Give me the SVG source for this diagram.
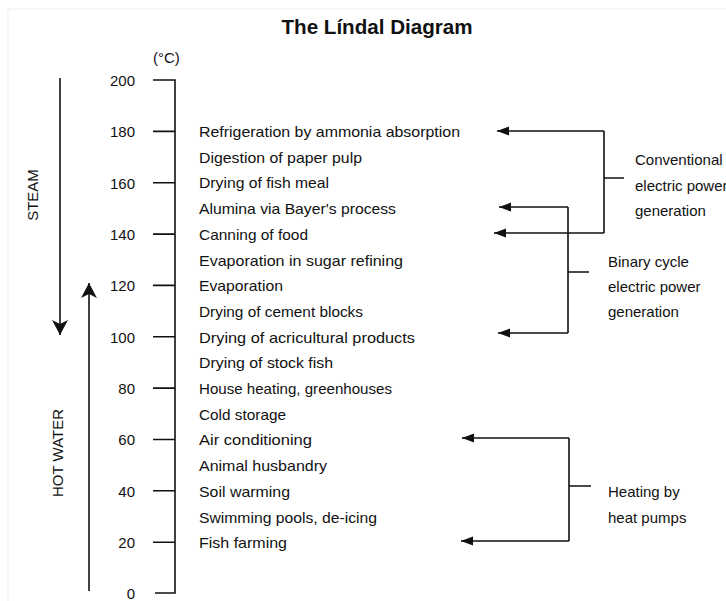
<svg xmlns="http://www.w3.org/2000/svg" width="726" height="601" viewBox="0 0 726 601">
<style>
text{font-family:"Liberation Sans",Arial,sans-serif;fill:#111}
.t{font-size:21px;font-weight:bold}
.n{font-size:15px;text-anchor:end}
.a{font-size:15px}
.v{font-size:15px;text-anchor:middle}
.ln{fill:none;stroke:#111;stroke-width:1.6}
.ax{fill:none;stroke:#111;stroke-width:1.6}
</style>
<defs>
<marker id="ah" markerUnits="userSpaceOnUse" markerWidth="13" markerHeight="10" refX="12" refY="4.5" orient="auto">
<path d="M0,0 L12,4.5 L0,9 Z" fill="#111"/>
</marker>
<marker id="st" markerUnits="userSpaceOnUse" markerWidth="16" markerHeight="17" refX="15" refY="8" orient="auto">
<path d="M0,0 L15,8 L0,16 L4,8 Z" fill="#111"/>
</marker>
</defs>
<rect x="8" y="9" width="740" height="620" fill="#fff" stroke="#efefef" stroke-width="1"/>
<g id="title"><text class="t" x="377" y="34" text-anchor="middle" textLength="191" lengthAdjust="spacingAndGlyphs">The Líndal Diagram</text></g>
<g id="axis">
<text class="a" x="153" y="63">(°C)</text>
<path class="ax" d="M153,80 H175 V593 H155"/>
<path class="ax" d="M153,131.4 H175 M153,182.7 H175 M153,234.1 H175 M153,285.4 H175 M153,336.8 H175 M153,388.1 H175 M153,439.5 H175 M153,490.8 H175 M153,542.2 H175"/>
<text class="n" x="135" y="86">200</text>
<text class="n" x="135" y="137">180</text>
<text class="n" x="135" y="188.5">160</text>
<text class="n" x="135" y="240">140</text>
<text class="n" x="135" y="291">120</text>
<text class="n" x="135" y="342.5">100</text>
<text class="n" x="135" y="394">80</text>
<text class="n" x="135" y="445">60</text>
<text class="n" x="135" y="496.5">40</text>
<text class="n" x="135" y="548">20</text>
<text class="n" x="135" y="599">0</text>
</g>
<g id="steam">
<text class="v" transform="translate(38,195) rotate(-90)">STEAM</text>
</g>
<g id="hotwater">
<text class="v" transform="translate(63,453) rotate(-90)">HOT WATER</text>
</g>
<g id="applications">
<text class="a" x="199" y="137" textLength="261" lengthAdjust="spacingAndGlyphs">Refrigeration by ammonia absorption</text>
<text class="a" x="199" y="162.7" textLength="163" lengthAdjust="spacingAndGlyphs">Digestion of paper pulp</text>
<text class="a" x="199" y="188.4" textLength="130" lengthAdjust="spacingAndGlyphs">Drying of fish meal</text>
<text class="a" x="199" y="214.1" textLength="197" lengthAdjust="spacingAndGlyphs">Alumina via Bayer's process</text>
<text class="a" x="199" y="239.8" textLength="109" lengthAdjust="spacingAndGlyphs">Canning of food</text>
<text class="a" x="199" y="265.5" textLength="204" lengthAdjust="spacingAndGlyphs">Evaporation in sugar refining</text>
<text class="a" x="199" y="291.2" textLength="84" lengthAdjust="spacingAndGlyphs">Evaporation</text>
<text class="a" x="199" y="316.9" textLength="164" lengthAdjust="spacingAndGlyphs">Drying of cement blocks</text>
<text class="a" x="199" y="342.6" textLength="216" lengthAdjust="spacingAndGlyphs">Drying of acricultural products</text>
<text class="a" x="199" y="368.3" textLength="134" lengthAdjust="spacingAndGlyphs">Drying of stock fish</text>
<text class="a" x="199" y="394" textLength="193" lengthAdjust="spacingAndGlyphs">House heating, greenhouses</text>
<text class="a" x="199" y="419.7" textLength="87" lengthAdjust="spacingAndGlyphs">Cold storage</text>
<text class="a" x="199" y="445.4" textLength="113" lengthAdjust="spacingAndGlyphs">Air conditioning</text>
<text class="a" x="199" y="471.1" textLength="128" lengthAdjust="spacingAndGlyphs">Animal husbandry</text>
<text class="a" x="199" y="496.8" textLength="91" lengthAdjust="spacingAndGlyphs">Soil warming</text>
<text class="a" x="199" y="522.5" textLength="178" lengthAdjust="spacingAndGlyphs">Swimming pools, de-icing</text>
<text class="a" x="199" y="548.2" textLength="88" lengthAdjust="spacingAndGlyphs">Fish farming</text>
</g>
<g id="conventional">
<text class="a" x="635" y="165">Conventional</text>
<text class="a" x="635" y="191">electric power</text>
<text class="a" x="635" y="216">generation</text>
</g>
<g id="binary">
<text class="a" x="608" y="267">Binary cycle</text>
<text class="a" x="608" y="292">electric power</text>
<text class="a" x="608" y="317">generation</text>
</g>
<g id="heatpumps">
<text class="a" x="608" y="497">Heating by</text>
<text class="a" x="608" y="523">heat pumps</text>
</g>
<g id="connectors">
<path class="ln" d="M60,78 V335" marker-end="url(#st)"/>
<path class="ln" d="M89,591 V283" marker-end="url(#st)"/>
<path class="ln" d="M604,131 V233 M604,178 H624"/>
<path class="ln" d="M604,131 H497" marker-end="url(#ah)"/>
<path class="ln" d="M604,233 H494" marker-end="url(#ah)"/>
<path class="ln" d="M568,207 V333 M568,272 H589"/>
<path class="ln" d="M568,207 H499" marker-end="url(#ah)"/>
<path class="ln" d="M568,333 H498" marker-end="url(#ah)"/>
<path class="ln" d="M569,438 V541 M569,486 H591"/>
<path class="ln" d="M569,438 H462" marker-end="url(#ah)"/>
<path class="ln" d="M569,541 H461" marker-end="url(#ah)"/>
</g>
</svg>
